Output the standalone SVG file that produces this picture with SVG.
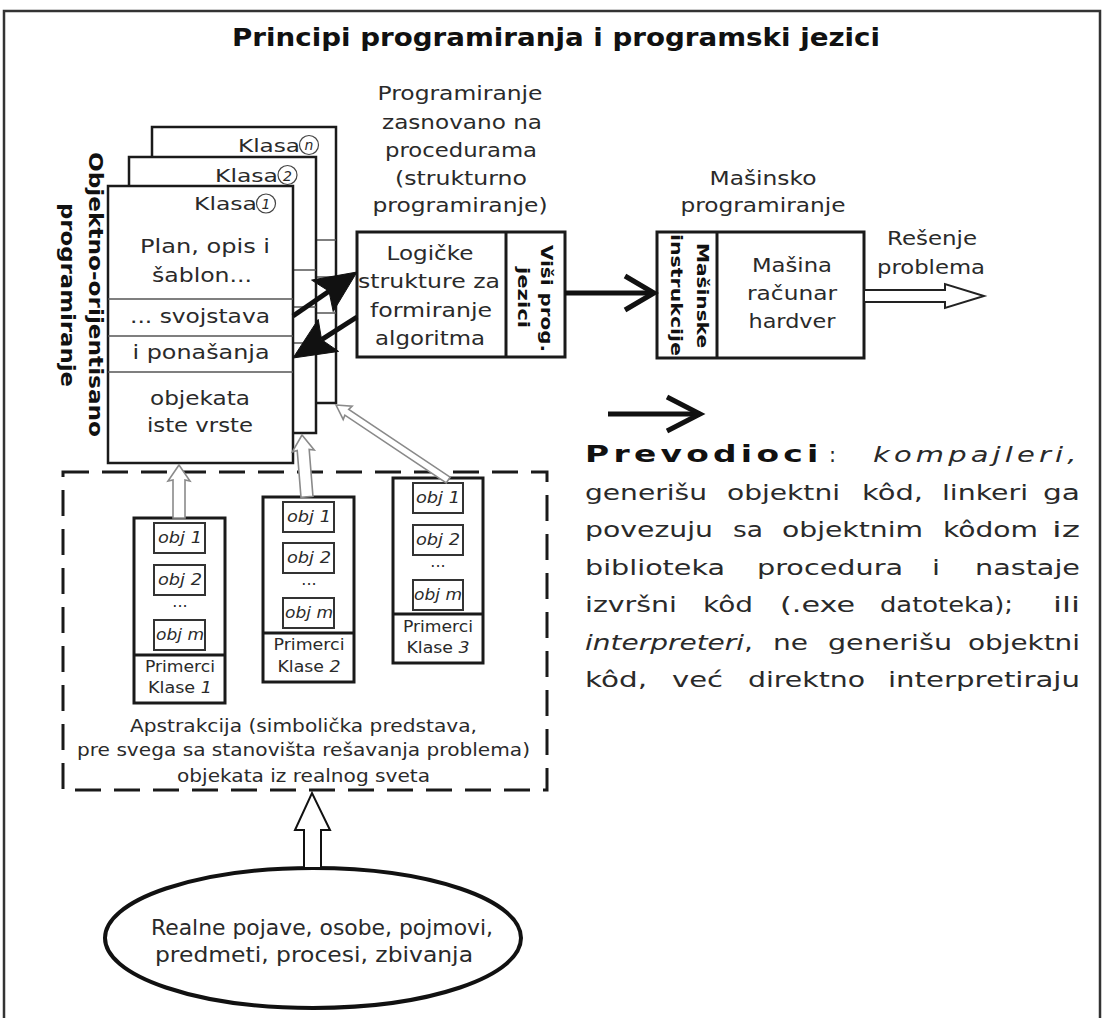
<svg xmlns="http://www.w3.org/2000/svg" width="1113" height="1018" viewBox="0 0 1113 1018">
<style>
text{font-family:"DejaVu Sans","Liberation Sans",sans-serif;fill:#2a2a2a}
.t{font-size:20px}
.c{text-anchor:middle}
.b{font-weight:bold;fill:#111}
.i{font-style:italic}
.s{font-size:16px}
.o{font-size:15px;font-style:italic}
.k{font-size:18px}
.p{font-size:21px}
.box{fill:#fff;stroke:#1a1a1a;stroke-width:3}
.cls{fill:#fff;stroke:#1a1a1a;stroke-width:2.5}
.ln{stroke:#555;stroke-width:1.3}
.ob{fill:#fff;stroke:#333;stroke-width:2}
.blk{stroke:#111;stroke-width:5;fill:none}
.gr{fill:#fff;stroke:#8a8a8a;stroke-width:1.6}
</style>
<rect x="0" y="0" width="1113" height="1018" fill="#fff"/>
<rect id="frame" x="4" y="11" width="1096" height="1040" fill="none" stroke="#333" stroke-width="2.5"/>
<text id="title" class="b c" x="556" y="46" style="font-size:25px" textLength="648" lengthAdjust="spacingAndGlyphs">Principi programiranja i programski jezici</text>

<g id="oop-label">
<text class="b c" style="font-size:20px" transform="translate(89,294.5) rotate(90)" textLength="285" lengthAdjust="spacingAndGlyphs">Objektno-orijentisano</text>
<text class="b c" style="font-size:20px" transform="translate(61,295) rotate(90)" textLength="184" lengthAdjust="spacingAndGlyphs">programiranje</text>
</g>

<g id="klasa-n">
<rect class="cls" x="152" y="127" width="184" height="276"/>
<line class="ln" x1="152" y1="240" x2="336" y2="240"/>
<line class="ln" x1="152" y1="277" x2="336" y2="277"/>
<line class="ln" x1="152" y1="313" x2="336" y2="313"/>
<text class="k" x="300" y="152" text-anchor="end" textLength="62" lengthAdjust="spacingAndGlyphs">Klasa</text>
<circle cx="309" cy="145" r="9.5" fill="none" stroke="#444" stroke-width="1.2"/>
<text class="i c" x="309" y="150" style="font-size:14px">n</text>
</g>
<g id="klasa-2">
<rect class="cls" x="129" y="157" width="187" height="276"/>
<line class="ln" x1="129" y1="270" x2="316" y2="270"/>
<line class="ln" x1="129" y1="307" x2="316" y2="307"/>
<line class="ln" x1="129" y1="343" x2="316" y2="343"/>
<text class="k" x="278" y="182" text-anchor="end" textLength="63" lengthAdjust="spacingAndGlyphs">Klasa</text>
<circle cx="287.5" cy="175" r="9.5" fill="none" stroke="#444" stroke-width="1.2"/>
<text class="i c" x="287.5" y="180.5" style="font-size:14px">2</text>
</g>
<g id="klasa-1">
<rect class="cls" x="108" y="186" width="185" height="277"/>
<line class="ln" x1="108" y1="299" x2="293" y2="299"/>
<line class="ln" x1="108" y1="336" x2="293" y2="336"/>
<line class="ln" x1="108" y1="372" x2="293" y2="372"/>
<text class="k" x="257" y="210" text-anchor="end" textLength="63" lengthAdjust="spacingAndGlyphs">Klasa</text>
<circle cx="266" cy="203.5" r="9.5" fill="none" stroke="#444" stroke-width="1.2"/>
<text class="i c" x="266" y="209" style="font-size:14px">1</text>
<text class="t c" x="205" y="253" textLength="130" lengthAdjust="spacingAndGlyphs">Plan, opis i</text>
<text class="t c" x="202" y="282" textLength="100" lengthAdjust="spacingAndGlyphs">šablon...</text>
<text class="t c" x="200" y="323" textLength="140" lengthAdjust="spacingAndGlyphs">... svojstava</text>
<text class="t c" x="201" y="359" textLength="137" lengthAdjust="spacingAndGlyphs">i ponašanja</text>
<text class="t c" x="200" y="405" textLength="100" lengthAdjust="spacingAndGlyphs">objekata</text>
<text class="t c" x="200" y="432" textLength="106" lengthAdjust="spacingAndGlyphs">iste vrste</text>
</g>

<g id="proc-label">
<text class="t c" x="460" y="100" textLength="165" lengthAdjust="spacingAndGlyphs">Programiranje</text>
<text class="t c" x="462" y="129" textLength="160" lengthAdjust="spacingAndGlyphs">zasnovano na</text>
<text class="t c" x="461" y="157" textLength="152" lengthAdjust="spacingAndGlyphs">procedurama</text>
<text class="t c" x="461" y="185" textLength="132" lengthAdjust="spacingAndGlyphs">(strukturno</text>
<text class="t c" x="460" y="212" textLength="175" lengthAdjust="spacingAndGlyphs">programiranje)</text>
</g>

<g id="logic-box">
<rect class="box" x="357" y="232" width="208" height="125"/>
<line x1="506" y1="232" x2="506" y2="357" stroke="#1a1a1a" stroke-width="3"/>
<text class="t c" x="430" y="260" textLength="87" lengthAdjust="spacingAndGlyphs">Logičke</text>
<text class="t c" x="429" y="288" textLength="142" lengthAdjust="spacingAndGlyphs">strukture za</text>
<text class="t c" x="431" y="317" textLength="122" lengthAdjust="spacingAndGlyphs">formiranje</text>
<text class="t c" x="430" y="345" textLength="110" lengthAdjust="spacingAndGlyphs">algoritma</text>
<text class="b c" style="font-size:16px" transform="translate(541,298.5) rotate(90)" textLength="107" lengthAdjust="spacingAndGlyphs">Viši prog.</text>
<text class="b c" style="font-size:16px" transform="translate(518,297.5) rotate(90)" textLength="61" lengthAdjust="spacingAndGlyphs">jezici</text>
</g>

<g id="machine-label">
<text class="t c" x="763" y="185" textLength="107" lengthAdjust="spacingAndGlyphs">Mašinsko</text>
<text class="t c" x="763" y="212" textLength="165" lengthAdjust="spacingAndGlyphs">programiranje</text>
</g>
<g id="machine-box">
<rect class="box" x="657" y="232" width="207" height="126"/>
<line x1="717" y1="232" x2="717" y2="358" stroke="#1a1a1a" stroke-width="3"/>
<text class="b c" style="font-size:16px" transform="translate(697,295.5) rotate(90)" textLength="105" lengthAdjust="spacingAndGlyphs">Mašinske</text>
<text class="b c" style="font-size:16px" transform="translate(671,295) rotate(90)" textLength="122" lengthAdjust="spacingAndGlyphs">instrukcije</text>
<text class="t c" x="792" y="272" textLength="80" lengthAdjust="spacingAndGlyphs">Mašina</text>
<text class="t c" x="792" y="300" textLength="90" lengthAdjust="spacingAndGlyphs">računar</text>
<text class="t c" x="792" y="328" textLength="87" lengthAdjust="spacingAndGlyphs">hardver</text>
</g>
<g id="result-label">
<text class="t c" x="932" y="245" textLength="90" lengthAdjust="spacingAndGlyphs">Rešenje</text>
<text class="t c" x="931" y="274" textLength="108" lengthAdjust="spacingAndGlyphs">problema</text>
</g>

<g id="instances">
<rect x="63" y="472" width="484" height="318" fill="none" stroke="#1a1a1a" stroke-width="3" stroke-dasharray="26 13"/>
<g id="primerci-1">
<rect class="box" x="134" y="518" width="91" height="185"/>
<line x1="134" y1="655" x2="225" y2="655" stroke="#1a1a1a" stroke-width="3"/>
<rect class="ob" x="154" y="523" width="51" height="30"/>
<rect class="ob" x="154" y="565" width="51" height="30"/>
<rect class="ob" x="154" y="620" width="51" height="30"/>
<text class="o c" x="180" y="543" textLength="44" lengthAdjust="spacingAndGlyphs">obj 1</text>
<text class="o c" x="180" y="585" textLength="44" lengthAdjust="spacingAndGlyphs">obj 2</text>
<text class="o c" x="180" y="640" textLength="48" lengthAdjust="spacingAndGlyphs">obj m</text>
<text class="s c" x="180" y="607">...</text>
<text class="s c" x="180" y="672" textLength="70" lengthAdjust="spacingAndGlyphs">Primerci</text>
<text class="s c" x="180" y="693" textLength="64" lengthAdjust="spacingAndGlyphs">Klase <tspan class="i">1</tspan></text>
</g>
<g id="primerci-2">
<rect class="box" x="263" y="497" width="91" height="185"/>
<line x1="263" y1="633" x2="354" y2="633" stroke="#1a1a1a" stroke-width="3"/>
<rect class="ob" x="283" y="502" width="51" height="30"/>
<rect class="ob" x="283" y="543" width="51" height="30"/>
<rect class="ob" x="283" y="598" width="51" height="30"/>
<text class="o c" x="309" y="522" textLength="44" lengthAdjust="spacingAndGlyphs">obj 1</text>
<text class="o c" x="309" y="563" textLength="44" lengthAdjust="spacingAndGlyphs">obj 2</text>
<text class="o c" x="309" y="618" textLength="48" lengthAdjust="spacingAndGlyphs">obj m</text>
<text class="s c" x="309" y="585">...</text>
<text class="s c" x="309" y="650" textLength="71" lengthAdjust="spacingAndGlyphs">Primerci</text>
<text class="s c" x="309" y="672" textLength="63" lengthAdjust="spacingAndGlyphs">Klase <tspan class="i">2</tspan></text>
</g>
<g id="primerci-3">
<rect class="box" x="393" y="478" width="90" height="185"/>
<line x1="393" y1="614" x2="483" y2="614" stroke="#1a1a1a" stroke-width="3"/>
<rect class="ob" x="413" y="483" width="50" height="30"/>
<rect class="ob" x="413" y="525" width="50" height="30"/>
<rect class="ob" x="413" y="580" width="50" height="30"/>
<text class="o c" x="438" y="503" textLength="44" lengthAdjust="spacingAndGlyphs">obj 1</text>
<text class="o c" x="438" y="545" textLength="44" lengthAdjust="spacingAndGlyphs">obj 2</text>
<text class="o c" x="438" y="600" textLength="48" lengthAdjust="spacingAndGlyphs">obj m</text>
<text class="s c" x="438" y="567">...</text>
<text class="s c" x="438" y="632" textLength="70" lengthAdjust="spacingAndGlyphs">Primerci</text>
<text class="s c" x="438" y="653" textLength="63" lengthAdjust="spacingAndGlyphs">Klase <tspan class="i">3</tspan></text>
</g>
<text class="c" style="font-size:17px" x="303.5" y="732" textLength="347" lengthAdjust="spacingAndGlyphs">Apstrakcija (simbolička predstava,</text>
<text class="c" style="font-size:17px" x="303.5" y="756" textLength="453" lengthAdjust="spacingAndGlyphs">pre svega sa stanovišta rešavanja problema)</text>
<text class="c" style="font-size:17px" x="303.5" y="782" textLength="253" lengthAdjust="spacingAndGlyphs">objekata iz realnog sveta</text>
</g>

<g id="real-world">
<ellipse cx="313" cy="938" rx="208" ry="70" fill="#fff" stroke="#111" stroke-width="4"/>
<text class="c" style="font-size:21px" x="322" y="935" textLength="342" lengthAdjust="spacingAndGlyphs">Realne pojave, osobe, pojmovi,</text>
<text class="c" style="font-size:21px" x="314" y="962" textLength="318" lengthAdjust="spacingAndGlyphs">predmeti, procesi, zbivanja</text>
</g>

<g id="prevodioci">
<text class="b" style="font-size:23px" letter-spacing="3" transform="translate(585,462) scale(1.43,1)">Prevodioci</text>
<text class="p" x="829" y="462">:</text>
<text class="p i" letter-spacing="3" transform="translate(873,462) scale(1.38,1)">kompajleri,</text>

<text class="p" x="585" y="499.5" textLength="122" lengthAdjust="spacingAndGlyphs">generišu</text>
<text class="p" x="727" y="499.5" textLength="113" lengthAdjust="spacingAndGlyphs">objektni</text>
<text class="p" x="862" y="499.5" textLength="61" lengthAdjust="spacingAndGlyphs">kôd,</text>
<text class="p" x="942" y="499.5" textLength="86" lengthAdjust="spacingAndGlyphs">linkeri</text>
<text class="p" x="1043" y="499.5" textLength="37" lengthAdjust="spacingAndGlyphs">ga</text>

<text class="p" x="585" y="537" textLength="128" lengthAdjust="spacingAndGlyphs">povezuju</text>
<text class="p" x="733" y="537" textLength="30" lengthAdjust="spacingAndGlyphs">sa</text>
<text class="p" x="782" y="537" textLength="141" lengthAdjust="spacingAndGlyphs">objektnim</text>
<text class="p" x="943" y="537" textLength="95" lengthAdjust="spacingAndGlyphs">kôdom</text>
<text class="p" x="1052" y="537" textLength="28" lengthAdjust="spacingAndGlyphs">iz</text>

<text class="p" x="585" y="574.5" textLength="140" lengthAdjust="spacingAndGlyphs">biblioteka</text>
<text class="p" x="757" y="574.5" textLength="146" lengthAdjust="spacingAndGlyphs">procedura</text>
<text class="p" x="932" y="574.5" textLength="8" lengthAdjust="spacingAndGlyphs">i</text>
<text class="p" x="975" y="574.5" textLength="105" lengthAdjust="spacingAndGlyphs">nastaje</text>

<text class="p" x="585" y="612" textLength="92" lengthAdjust="spacingAndGlyphs">izvršni</text>
<text class="p" x="703" y="612" textLength="50" lengthAdjust="spacingAndGlyphs">kôd</text>
<text class="p" x="780" y="612" textLength="75" lengthAdjust="spacingAndGlyphs">(.exe</text>
<text class="p" x="880" y="612" textLength="133" lengthAdjust="spacingAndGlyphs">datoteka);</text>
<text class="p" x="1053" y="612" textLength="27" lengthAdjust="spacingAndGlyphs">ili</text>

<text class="p" x="585" y="649.5" textLength="168" lengthAdjust="spacingAndGlyphs"><tspan class="i">interpreteri</tspan>,</text>
<text class="p" x="773" y="649.5" textLength="35" lengthAdjust="spacingAndGlyphs">ne</text>
<text class="p" x="828" y="649.5" textLength="124" lengthAdjust="spacingAndGlyphs">generišu</text>
<text class="p" x="968" y="649.5" textLength="112" lengthAdjust="spacingAndGlyphs">objektni</text>

<text class="p" x="585" y="687" textLength="62" lengthAdjust="spacingAndGlyphs">kôd,</text>
<text class="p" x="672" y="687" textLength="51" lengthAdjust="spacingAndGlyphs">već</text>
<text class="p" x="748" y="687" textLength="117" lengthAdjust="spacingAndGlyphs">direktno</text>
<text class="p" x="888" y="687" textLength="192" lengthAdjust="spacingAndGlyphs">interpretiraju</text>
</g>

<g id="connectors">
<line class="blk" x1="293" y1="316" x2="329" y2="291.2"/>
<polygon points="357,272 311.6,280.1 329,291.2 333.2,311.5" fill="#111" stroke="#111" stroke-width="1"/>
<line class="blk" x1="357" y1="317" x2="321.6" y2="339.7"/>
<polygon points="293,358 318.2,319.4 321.6,339.7 338.6,351.4" fill="#111" stroke="#111" stroke-width="1"/>
<line class="blk" x1="565" y1="293" x2="651" y2="293"/>
<polyline class="blk" points="625,276 654,293 625,310"/>
<line class="blk" x1="608" y1="414" x2="697" y2="414"/>
<polyline class="blk" points="667,397 700,414 667,431"/>
<polygon points="864,290 945,290 945,284 984,296 945,308 945,302 864,302" fill="#fff" stroke="#222" stroke-width="2"/>
<polygon class="gr" transform="translate(179,465)" points="0,0 11,16 6,15 6,53 -6,53 -6,15 -11,16"/>
<polygon class="gr" transform="translate(302,435) rotate(-4.6)" points="0,0 11,16 6,15 6,62 -6,62 -6,15 -11,16"/>
<polygon class="gr" transform="translate(336,405) rotate(-56.2)" points="0,0 8,14 3.5,13 3.5,135 -3.5,135 -3.5,13 -8,14"/>
<polygon points="304,868 304,830 295,830 312,793 330,830 321,830 321,868" fill="#fff" stroke="#111" stroke-width="2"/>
</g>
</svg>
